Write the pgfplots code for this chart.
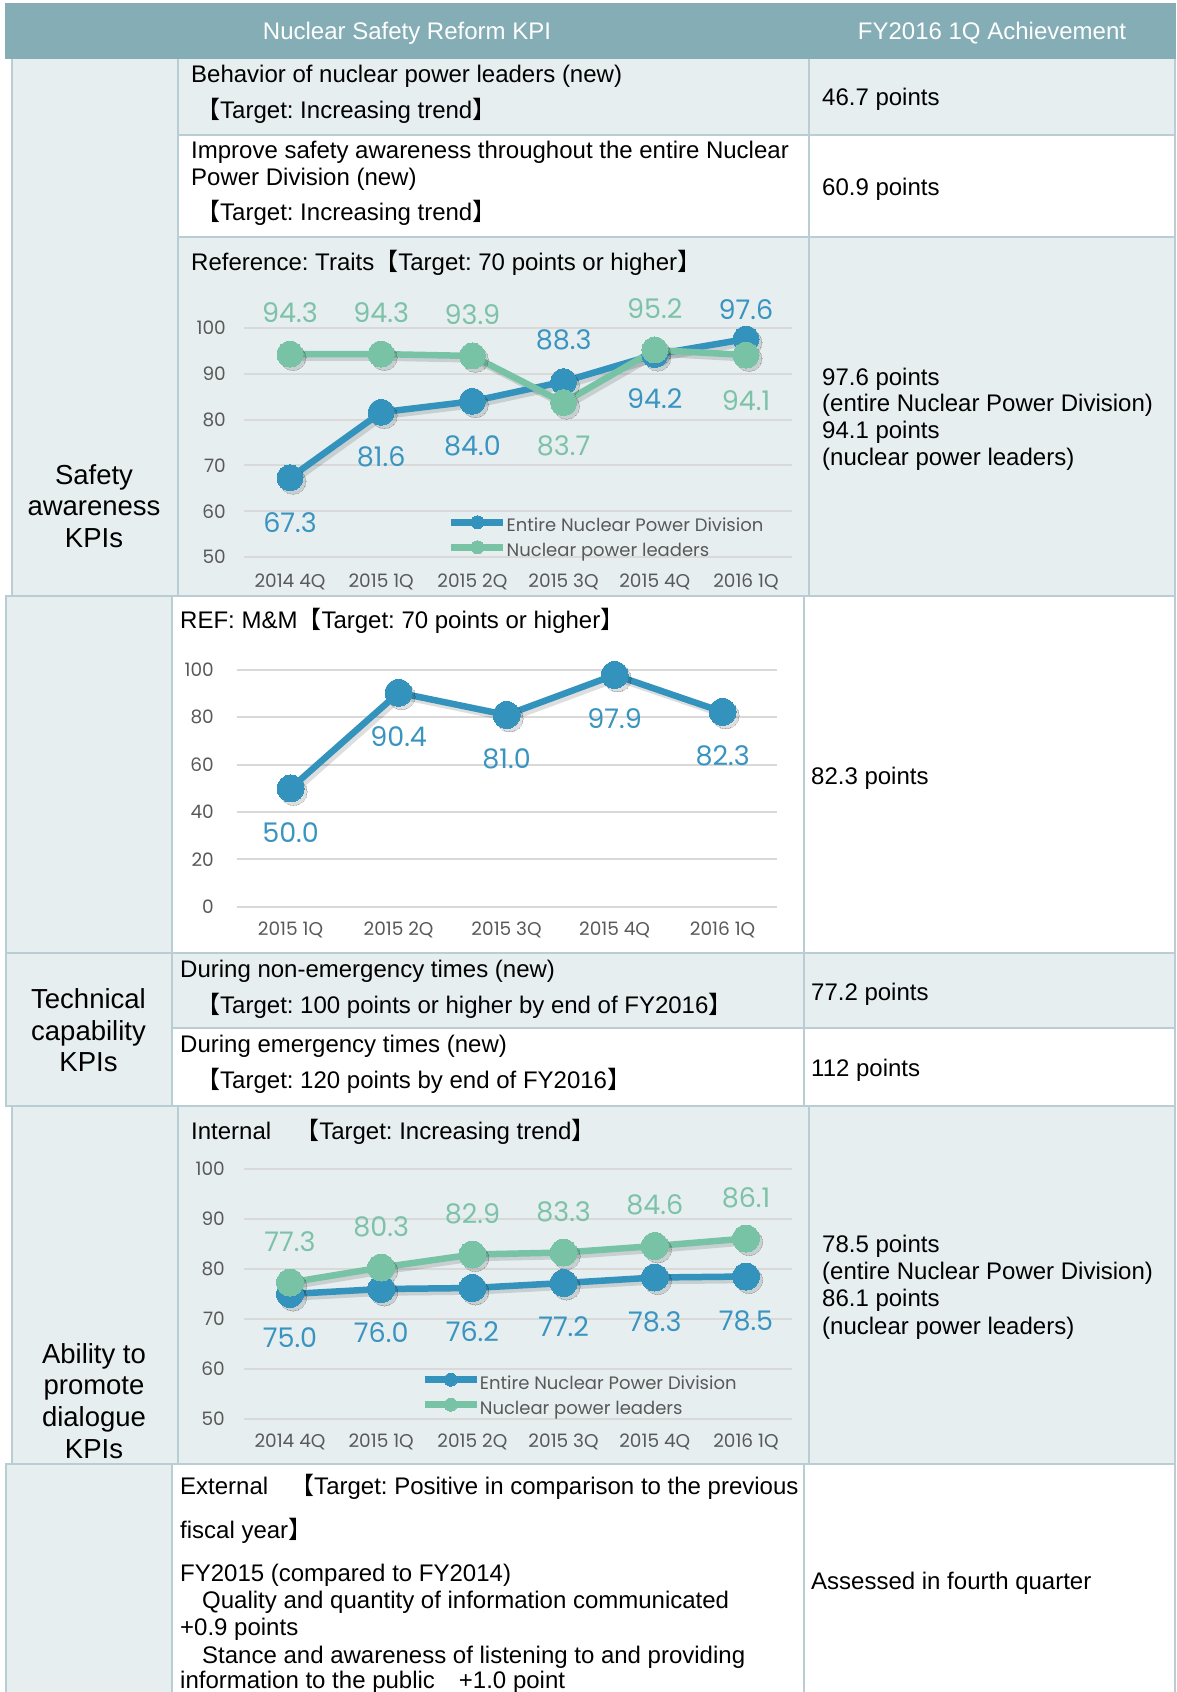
\documentclass[border=0pt]{standalone}
\usepackage{pgfplots}
\pgfplotsset{compat=1.18}
\usepackage{pgfplotstable}
\usepackage{fontspec}
\setmainfont{Liberation Sans}
\newfontfamily\cjk{Noto Sans CJK JP}
\newfontfamily\gothic{Poppins}
\frenchspacing

\definecolor{hdr}{RGB}{132,173,182}
\definecolor{lite}{RGB}{230,238,240}
\definecolor{bord}{RGB}{185,206,212}
\definecolor{cblue}{RGB}{52,147,189}
\definecolor{cgreen}{RGB}{120,194,166}
\definecolor{lblue}{RGB}{58,148,192}
\definecolor{lgreen}{RGB}{125,194,168}
\definecolor{tickc}{RGB}{89,89,89}
\definecolor{gridc}{RGB}{217,217,217}

\newcommand\lb{{\cjk 【}}
\newcommand\rb{{\cjk 】}}
\newcommand\bodyfont{\fontsize{24}{28}\selectfont}
\newcommand\labfont{\fontsize{27.5}{32}\selectfont}
\newcommand\lblfont{\gothic\fontsize{27}{30}\selectfont}

\pgfplotstableread[row sep=\\]{
x y\\
0 67.3\\
1 81.6\\
2 84.0\\
3 88.3\\
4 94.2\\
5 97.6\\
}\traitsA
\pgfplotstableread[row sep=\\]{
x y\\
0 94.3\\
1 94.3\\
2 93.9\\
3 83.7\\
4 95.2\\
5 94.1\\
}\traitsB
\pgfplotstableread[row sep=\\]{
x y\\
0 50.0\\
1 90.4\\
2 81.0\\
3 97.9\\
4 82.3\\
}\mmA
\pgfplotstableread[row sep=\\]{
x y\\
0 75.0\\
1 76.0\\
2 76.2\\
3 77.2\\
4 78.3\\
5 78.5\\
}\intA
\pgfplotstableread[row sep=\\]{
x y\\
0 77.3\\
1 80.3\\
2 82.9\\
3 83.3\\
4 84.6\\
5 86.1\\
}\intB

\pgfplotsset{
  kpichart/.style={
    scale only axis,
    axis line style={draw=none},
    major tick length=0pt,
    ymajorgrids,
    grid style={gridc, line width=2pt},
    tick label style={font=\gothic\fontsize{18.5}{21}\selectfont, text=tickc, inner sep=0pt},
    /pgf/number format/assume math mode=true,
    clip=false,
  },
  serblue/.style={cblue, line width=6.5pt, mark=*, mark size=#1, mark options={solid, fill=cblue, draw=cblue, line width=0pt}},
  sergreen/.style={cgreen, line width=6.5pt, mark=*, mark size=#1, mark options={solid, fill=cgreen, draw=cgreen, line width=0pt}},
  shad/.style={forget plot, black, opacity=0.13, line width=6.5pt, mark=*, mark size=#1,
    mark options={solid, fill=black, draw=black, line width=0pt}, shift={(3pt,-3.5pt)}},
  labs/.style 2 args={draw=none, mark=none, forget plot, point meta=y,
    nodes near coords={\pgfmathprintnumber[fixed,fixed zerofill,precision=1]{\pgfplotspointmeta}},
    every node near coord/.append style={font=\lblfont, text=#1, anchor=center, yshift=#2}},
  kpilegend/.style={
    legend style={at={#1}, anchor=north west, draw=none, fill=none, inner sep=0pt,
      row sep=4pt, nodes={inner sep=0pt, text height=14pt, text depth=5pt, text=tickc, font=\gothic\fontsize{18}{20}\selectfont}},
    legend cell align=left,
    legend image code/.code={\draw[##1, line width=6.5pt, mark size=6.5pt, mark repeat=2, mark phase=2] plot coordinates {(0pt,5pt) (26pt,5pt) (52pt,5pt)};}
  },
}

\tikzset{t/.style={anchor=base west, inner sep=0pt, font=\bodyfont},
         lab/.style={anchor=base, inner sep=0pt, font=\labfont}}

\begin{document}
\begin{tikzpicture}[x=1pt,y=1pt]
\useasboundingbox (0,0) rectangle (1176,-1692);
\fill[white] (0,0) rectangle (1176,-1692);
\coordinate (P1) at (244.4,-557);
\coordinate (P2) at (236.6,-906.7);
\coordinate (P3) at (244.4,-1419);
% header
\fill[hdr] (5,-3) rectangle (1176,-59);
% fills
\fill[lite] (12,-59) rectangle (178,-596);
\fill[lite] (178,-59) rectangle (1176,-135);
\fill[lite] (178,-237) rectangle (1176,-596);
\fill[lite] (6,-596) rectangle (172,-953);
\fill[lite] (6,-953) rectangle (172,-1106);
\fill[lite] (172,-953) rectangle (1176,-1028);
\fill[lite] (12,-1106) rectangle (1176,-1464);
\fill[lite] (6,-1464) rectangle (172,-1692);

% borders
\begin{scope}[draw=bord, line width=2.5pt]
\draw (12,-59) -- (12,-596);
\draw (178,-59) -- (178,-596);
\draw (809,-59) -- (809,-596);
\draw (178,-135) -- (1176,-135);
\draw (178,-237) -- (1176,-237);
\draw (6,-596) rectangle (1175,-953);
\draw (172,-596) -- (172,-953);
\draw (804,-596) -- (804,-953);
\draw (6,-953) rectangle (1175,-1106);
\draw (172,-953) -- (172,-1106);
\draw (804,-953) -- (804,-1106);
\draw (172,-1028) -- (1175,-1028);
\draw (12,-1106) -- (12,-1464);
\draw (178,-1106) -- (178,-1464);
\draw (809,-1106) -- (809,-1464);
\draw (1175,-59) -- (1175,-596);
\draw (1175,-1106) -- (1175,-1464);
\draw (6,-1464) rectangle (1175,-1693);
\draw (172,-1464) -- (172,-1692);
\draw (804,-1464) -- (804,-1692);
\end{scope}

% header text
\node[anchor=base, inner sep=0pt, font=\bodyfont, text=white] at (407,-39.5) {Nuclear Safety Reform KPI};
\node[anchor=base, inner sep=0pt, font=\bodyfont, text=white] at (992,-39.5) {FY2016 1Q Achievement};

% left labels
\node[lab] at (94,-484) {Safety};
\node[lab] at (94,-515) {awareness};
\node[lab] at (94,-547) {KPIs};
\node[lab] at (88.5,-1008) {Technical};
\node[lab] at (88.5,-1040) {capability};
\node[lab] at (88.5,-1071) {KPIs};
\node[lab] at (94,-1363) {Ability to};
\node[lab] at (94,-1394) {promote};
\node[lab] at (94,-1426) {dialogue};
\node[lab] at (94,-1458) {KPIs};

% row texts
\node[t] at (191,-82) {Behavior of nuclear power leaders (new)};
\node[t] at (196,-118) {\lb Target: Increasing trend\rb};
\node[t] at (822,-105) {46.7 points};
\node[t] at (191,-158) {Improve safety awareness throughout the entire Nuclear};
\node[t] at (191,-185) {Power Division (new)};
\node[t] at (196,-220) {\lb Target: Increasing trend\rb};
\node[t] at (822,-195) {60.9 points};
\node[t] at (191,-270) {Reference: Traits\lb Target: 70 points or higher\rb};
\node[t] at (822,-385) {97.6 points};
\node[t] at (822,-411.7) {(entire Nuclear Power Division)};
\node[t] at (822,-438.4) {94.1 points};
\node[t] at (822,-465) {(nuclear power leaders)};
\node[t] at (180,-628) {REF: M\&M\lb Target: 70 points or higher\rb};
\node[t] at (811,-784) {82.3 points};
\node[t] at (180,-977) {During non-emergency times (new)};
\node[t] at (196,-1013.5) {\lb Target: 100 points or higher by end of FY2016\rb};
\node[t] at (811,-1000.6) {77.2 points};
\node[t] at (180,-1052) {During emergency times (new)};
\node[t] at (196,-1088) {\lb Target: 120 points by end of FY2016\rb};
\node[t] at (811,-1076) {112 points};
\node[t] at (191,-1139) {Internal\hspace{24pt}\lb Target: Increasing trend\rb};
\node[t] at (822,-1252) {78.5 points};
\node[t] at (822,-1279.3) {(entire Nuclear Power Division)};
\node[t] at (822,-1306.6) {86.1 points};
\node[t] at (822,-1334) {(nuclear power leaders)};
\node[t] at (180,-1494) {External\hspace{22pt}\lb Target: Positive in comparison to the previous};
\node[t] at (180,-1538) {fiscal year\rb};
\node[t] at (180,-1581) {FY2015 (compared to FY2014)};
\node[t] at (202,-1608) {Quality and quantity of information communicated};
\node[t] at (180,-1635) {+0.9 points};
\node[t] at (202,-1663) {Stance and awareness of listening to and providing};
\node[t] at (180,-1688) {information to the public\hspace{24pt}+1.0 point};
\node[t] at (811,-1589) {Assessed in fourth quarter};

% ---- Chart 1: Traits
\begin{axis}[kpichart, at={(P1)}, anchor=south west,
  width=547.2pt, height=229pt, xmin=-0.5, xmax=5.5, ymin=50, ymax=100,
  ytick={50,60,...,100}, xtick={0,...,5},
  xticklabels={2014 4Q,2015 1Q,2015 2Q,2015 3Q,2015 4Q,2016 1Q},
  yticklabel style={anchor=east, xshift=-18.4pt},
  xticklabel style={anchor=center, yshift=-24.7pt},
  kpilegend={(0.372,0.181)}]
\addplot[shad=13pt] table[x=x,y=y]{\traitsA};
\addplot[shad=13pt] table[x=x,y=y]{\traitsB};
\addplot[serblue=13pt] table[x=x,y=y]{\traitsA};
\addlegendentry{Entire Nuclear Power Division}
\addplot[sergreen=13pt] table[x=x,y=y]{\traitsB};
\addlegendentry{Nuclear power leaders}
\addplot[labs={lblue}{-44.5pt}] coordinates {(0,67.3) (1,81.6) (2,84.0) (4,94.2)};
\addplot[labs={lblue}{41.5pt}] coordinates {(3,88.3)};
\addplot[labs={lblue}{29.5pt}] coordinates {(5,97.6)};
\addplot[labs={lgreen}{41.5pt}] coordinates {(0,94.3) (1,94.3) (2,93.9) (4,95.2)};
\addplot[labs={lgreen}{-43pt}] coordinates {(3,83.7)};
\addplot[labs={lgreen}{-46pt}] coordinates {(5,94.1)};
\end{axis}

% ---- Chart 2: M&M
\begin{axis}[kpichart, at={(P2)}, anchor=south west,
  width=540pt, height=236.7pt, xmin=-0.5, xmax=4.5, ymin=0, ymax=100,
  ytick={0,20,...,100}, xtick={0,...,4},
  xticklabels={2015 1Q,2015 2Q,2015 3Q,2015 4Q,2016 1Q},
  yticklabel style={anchor=east, xshift=-22.6pt},
  xticklabel style={anchor=center, yshift=-23.3pt}]
\addplot[shad=13.5pt] table[x=x,y=y]{\mmA};
\addplot[serblue=13.5pt] table[x=x,y=y]{\mmA};
\addplot[labs={lblue}{-44pt}] table[x=x,y=y]{\mmA};
\end{axis}

% ---- Chart 3: Internal
\begin{axis}[kpichart, at={(P3)}, anchor=south west,
  width=547.2pt, height=250pt, xmin=-0.5, xmax=5.5, ymin=50, ymax=100,
  ytick={50,60,...,100}, xtick={0,...,5},
  xticklabels={2014 4Q,2015 1Q,2015 2Q,2015 3Q,2015 4Q,2016 1Q},
  yticklabel style={anchor=east, xshift=-19.4pt},
  xticklabel style={anchor=center, yshift=-22.7pt},
  kpilegend={(0.323,0.184)}]
\addplot[shad=13.5pt] table[x=x,y=y]{\intA};
\addplot[shad=13.5pt] table[x=x,y=y]{\intB};
\addplot[serblue=13.5pt] table[x=x,y=y]{\intA};
\addlegendentry{Entire Nuclear Power Division}
\addplot[sergreen=13.5pt] table[x=x,y=y]{\intB};
\addlegendentry{Nuclear power leaders}
\addplot[labs={lblue}{-44pt}] table[x=x,y=y]{\intA};
\addplot[labs={lgreen}{41pt}] table[x=x,y=y]{\intB};
\end{axis}
\end{tikzpicture}
\end{document}
